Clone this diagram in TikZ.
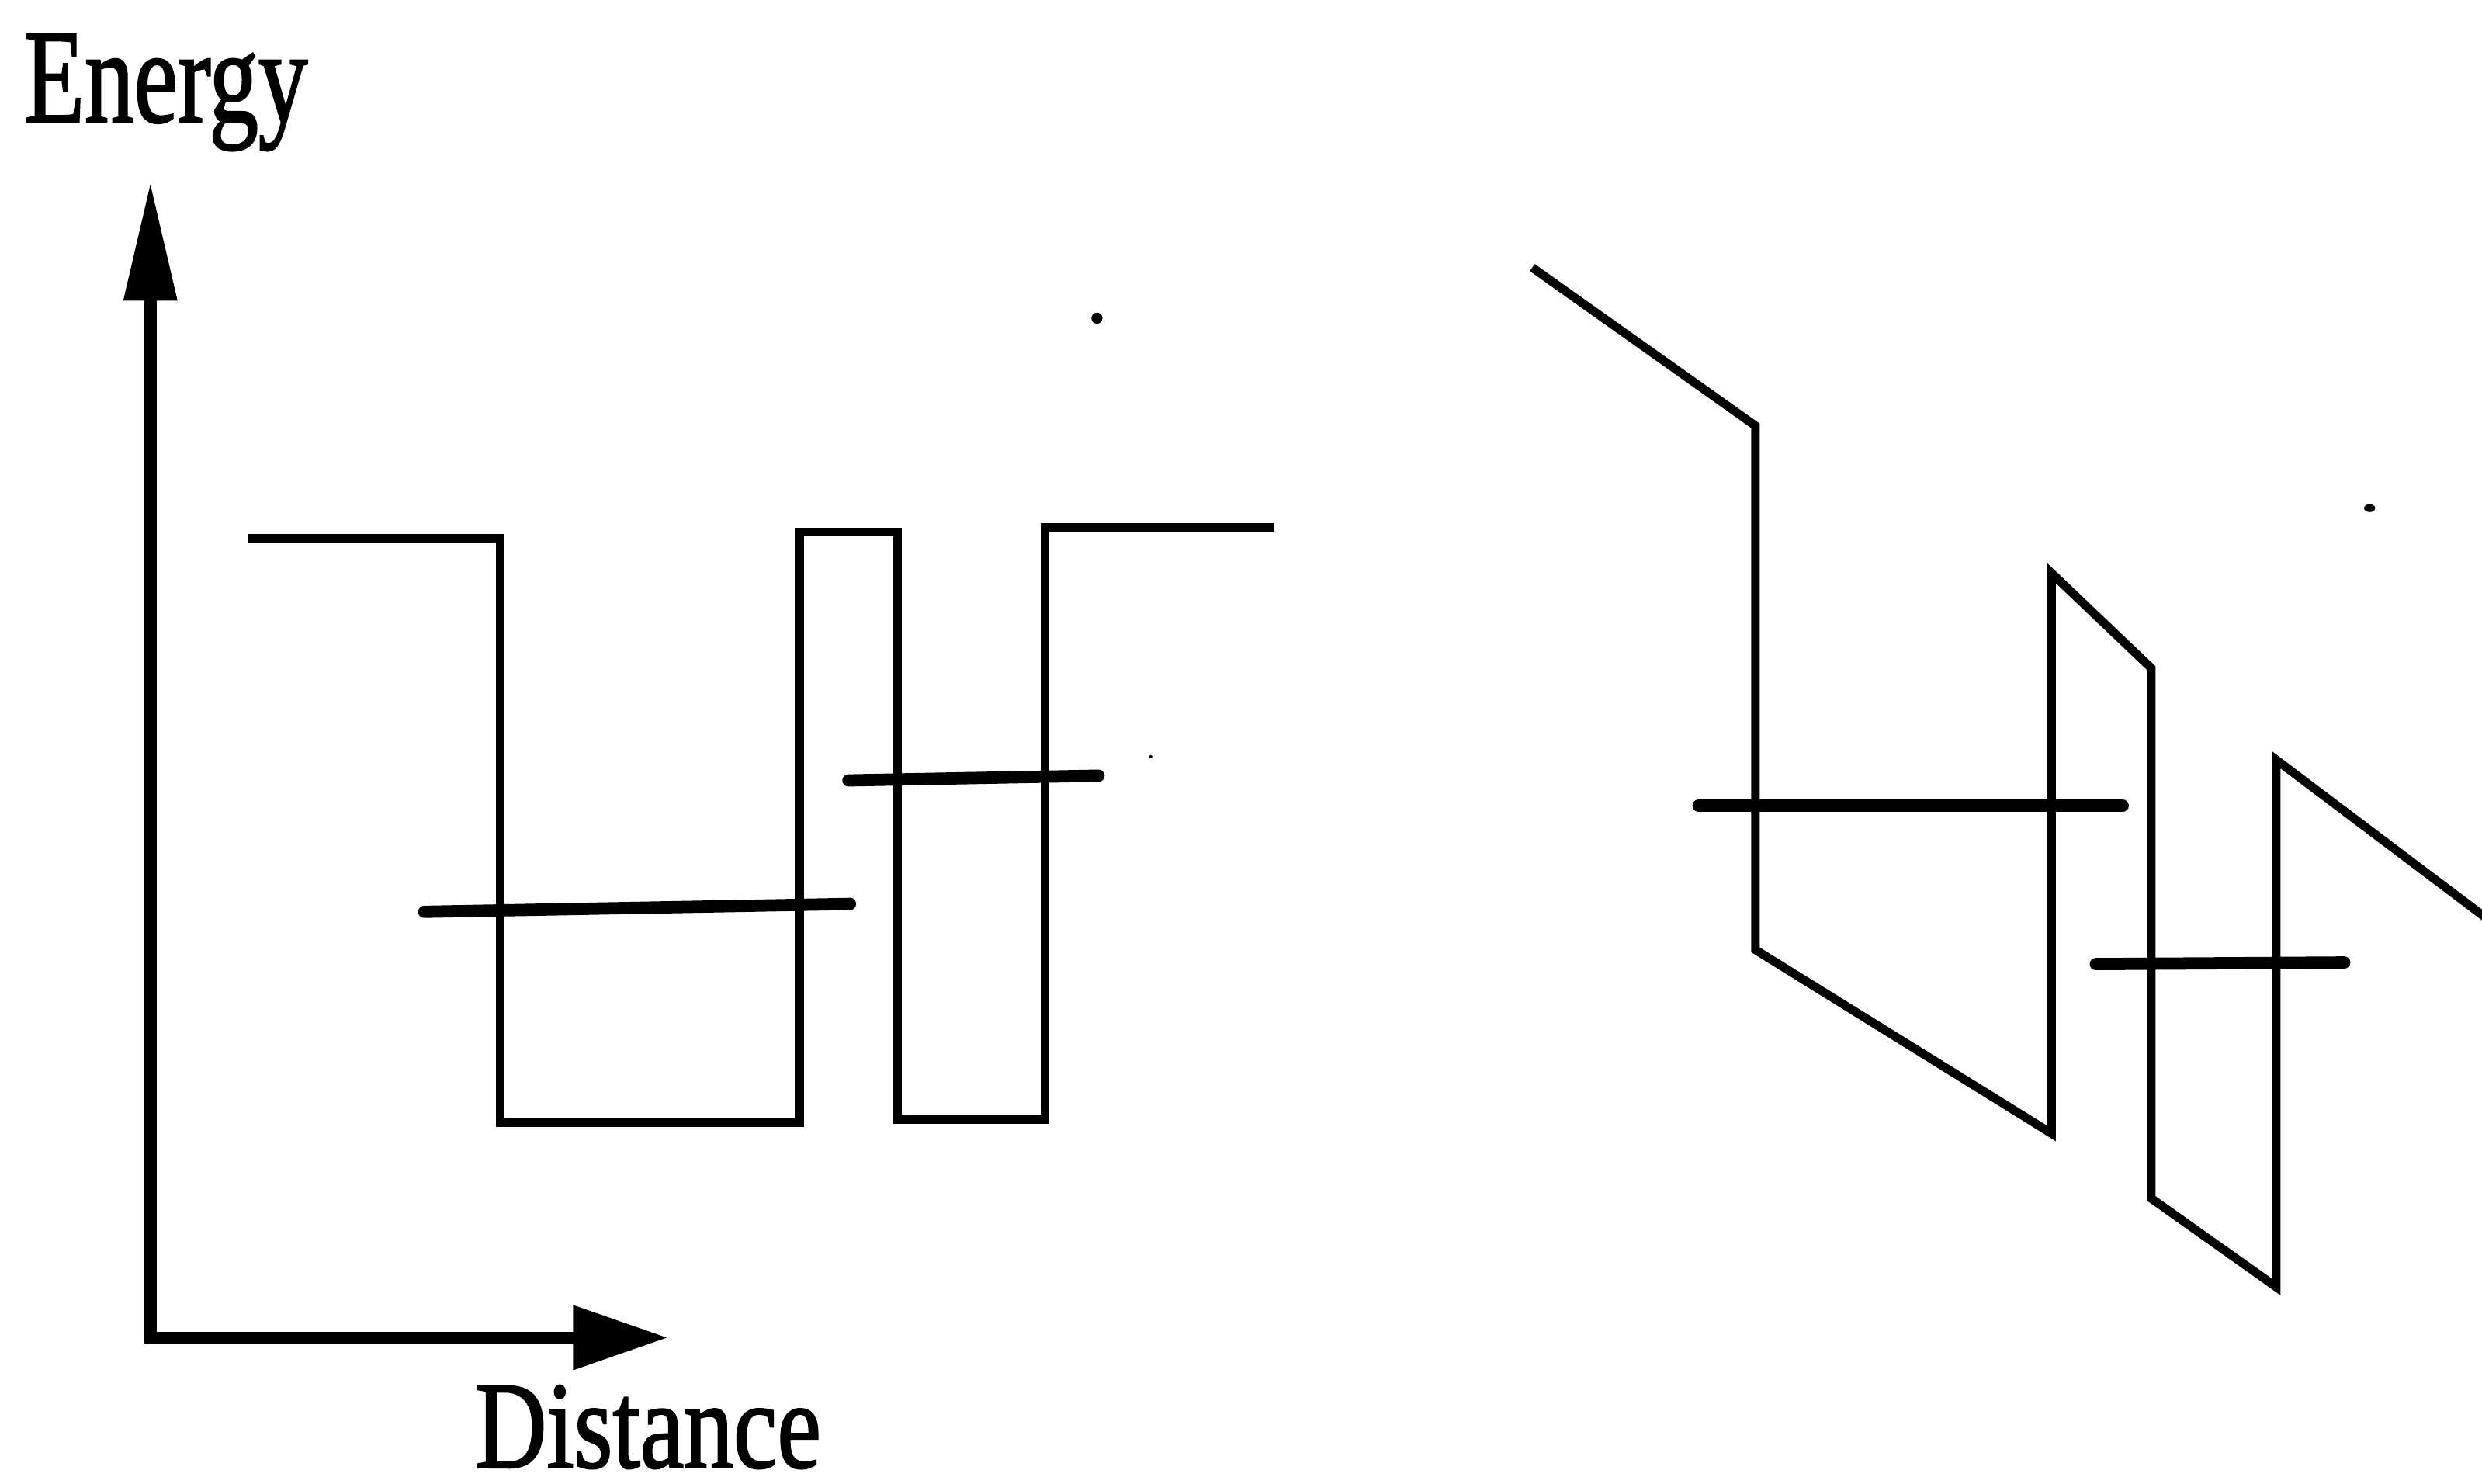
\documentclass[tikz,border=0pt]{standalone}
\usepackage{fontspec}
\setmainfont{Liberation Serif}
\newfontfamily\labelfont{Liberation Serif}[FakeBold=1.6]
\usetikzlibrary{arrows.meta}
\begin{document}
\begin{tikzpicture}[x=0.02cm, y=-0.02cm,
  axis/.style={line width=4.4pt, line join=miter},
  band/.style={line width=3.1pt, line join=miter},
  level/.style={line width=4.4pt, line cap=round},
  axislabel/.style={inner sep=0pt, font=\labelfont\fontsize{48}{48}\selectfont},
  speck/.style={fill=black, draw=none}]
\useasboundingbox (0,0) rectangle (1568,937);

% axes
\coordinate (etip) at (95,115);
\coordinate (origin) at (95,845);
\coordinate (dtip) at (422,845);
\draw[axis, arrows={Triangle[length=1.5cm,width=0.64cm]-Triangle[length=1.2cm,width=0.78cm]}]
  (etip) -- (origin) -- (dtip);
\node[axislabel, anchor=base west] (energy) at (15,77) {\scalebox{0.74}[1]{Energy}};
\node[axislabel, anchor=base west] (distance) at (300,927) {\scalebox{0.74}[0.93]{Distance}};

% flat-band double quantum well
\draw[band] (157,340) -- (316,340) -- (316,709) -- (505,709) -- (505,336)
  -- (567,336) -- (567,707) -- (660,707) -- (660,333) -- (805,333);
\draw[level] (268,576) -- (537,571);
\draw[level] (536,493) -- (694,490);

% tilted bands under applied field
\draw[band] (968,169) -- (1109,269) -- (1109,600) -- (1296,716) -- (1296,362)
  -- (1359,422) -- (1359,757) -- (1438,813) -- (1438,480) -- (1584,590);
\draw[level] (1073,509) -- (1341,509);
\draw[level] (1324,609) -- (1481,608);

% small specks
\fill[speck] (693,201) circle (3.5);
\fill[speck] (727,478) circle (1);
\fill[speck] (1497,321) ellipse (3.5 and 2.5);
\end{tikzpicture}
\end{document}
